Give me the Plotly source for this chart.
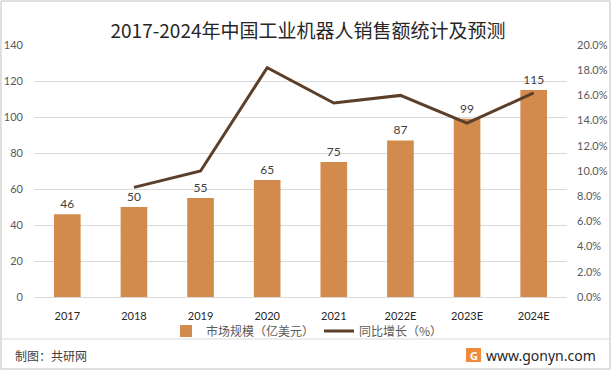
import plotly.graph_objects as go

categories = ["2017", "2018", "2019", "2020", "2021", "2022E", "2023E", "2024E"]
market_size = [46, 50, 55, 65, 75, 87, 99, 115]
growth_pct = [None, 8.7, 10.0, 18.2, 15.4, 16.0, 13.8, 16.2]
left_ticks = [0, 20, 40, 60, 80, 100, 120, 140]
right_ticks = [0, 2, 4, 6, 8, 10, 12, 14, 16, 18, 20]
right_tick_labels = [f"{v:.1f}%" for v in right_ticks]

NUM_FONT = "Lato, 'Noto Sans CJK SC', sans-serif"
CJK_FONT = "'Noto Sans CJK SC', 'Microsoft YaHei', sans-serif"
BAR_COLOR = "#D38B4D"
LINE_COLOR = "#5C3F2A"
GRID = "#D9D9D9"
TXT = "#595959"

fig = go.Figure()
fig.add_trace(go.Bar(
    x=categories, y=market_size, name="市场规模（亿美元）",
    marker=dict(color=BAR_COLOR, line=dict(width=0)),
    width=0.4,
    text=[str(v) for v in market_size], textposition="outside",
    textfont=dict(family=NUM_FONT, size=12, color="#404040"),
    cliponaxis=False,
))
fig.add_trace(go.Scatter(
    x=categories, y=growth_pct, name="同比增长（%）", yaxis="y2",
    mode="lines", line=dict(color=LINE_COLOR, width=3),
))

W, H = 612, 371
L, R, T, B = 34, 45, 45, 74
pw = W - L - R
ph = H - T - B

def px(xp):
    return (xp - L) / pw

def py(yp):
    return (H - B - yp) / ph

fig.update_layout(
    width=W, height=H,
    margin=dict(l=L, r=R, t=T, b=B, pad=0, autoexpand=False),
    paper_bgcolor="white", plot_bgcolor="white",
    showlegend=True,
    bargap=0.6,
    title=dict(text="2017-2024年中国工业机器人销售额统计及预测",
               x=308 / W, xanchor="center", y=1 - 31 / H, yanchor="middle",
               font=dict(family=CJK_FONT, size=19, color="#262626")),
    xaxis=dict(showgrid=False, showline=True, linecolor=GRID, linewidth=1,
               ticks="", tickfont=dict(family=NUM_FONT, size=11, color="#262626"),
               ticklabelstandoff=9, automargin=False),
    yaxis=dict(range=[0, 140], tickvals=left_ticks, showgrid=True, gridcolor=GRID,
               gridwidth=1, zeroline=False, showline=False, ticks="",
               tickfont=dict(family=NUM_FONT, size=11, color=TXT), ticklabelstandoff=10,
               automargin=False),
    yaxis2=dict(range=[0, 20], tickvals=right_ticks, ticktext=right_tick_labels,
                overlaying="y", side="right", showgrid=False, zeroline=False,
                showline=False, ticks="",
                tickfont=dict(family=NUM_FONT, size=11, color=TXT), ticklabelstandoff=9,
                automargin=False),
    legend=dict(orientation="h", x=px(307), xanchor="center", y=py(331), yanchor="middle",
                font=dict(family=CJK_FONT, size=12, color=TXT),
                itemwidth=30, tracegroupgap=0, bgcolor="rgba(0,0,0,0)"),
)

shapes = [
    dict(type="rect", xref="paper", yref="paper", x0=px(1), x1=px(610), y0=py(369), y1=py(1),
         line=dict(color="#BFBFBF", width=1), fillcolor="rgba(0,0,0,0)", layer="below"),
    dict(type="line", xref="paper", yref="paper", x0=px(1), x1=px(610), y0=py(339), y1=py(339),
         line=dict(color="#D9D9D9", width=1)),
    dict(type="rect", xref="paper", yref="paper", x0=px(466), x1=px(481), y0=py(362), y1=py(348),
         line=dict(width=0), fillcolor="#F08A3C"),
]
fig.update_layout(shapes=shapes)

fig.add_annotation(text="制图：共研网", xref="paper", yref="paper", x=px(13), y=py(355),
                   xanchor="left", yanchor="middle", showarrow=False,
                   font=dict(family=CJK_FONT, size=12, color="#404040"))
fig.add_annotation(text="www.gonyn.com", xref="paper", yref="paper", x=px(598), y=py(355),
                   xanchor="right", yanchor="middle", showarrow=False,
                   font=dict(family="'Noto Sans', sans-serif", size=14, color="#262626"))
fig.add_annotation(text="<b>G</b>", xref="paper", yref="paper", x=px(473.5), y=py(355),
                   xanchor="center", yanchor="middle", showarrow=False,
                   font=dict(family="'Noto Sans', sans-serif", size=11, color="white"))

fig.write_html("out.html", config={"displayModeBar": False})

with open("out.html", "r", encoding="utf-8") as f:
    html = f.read()
html = html.replace("<head>", "<head><style>html,body{margin:0;padding:0;overflow:hidden;}</style>", 1)
with open("out.html", "w", encoding="utf-8") as f:
    f.write(html)
